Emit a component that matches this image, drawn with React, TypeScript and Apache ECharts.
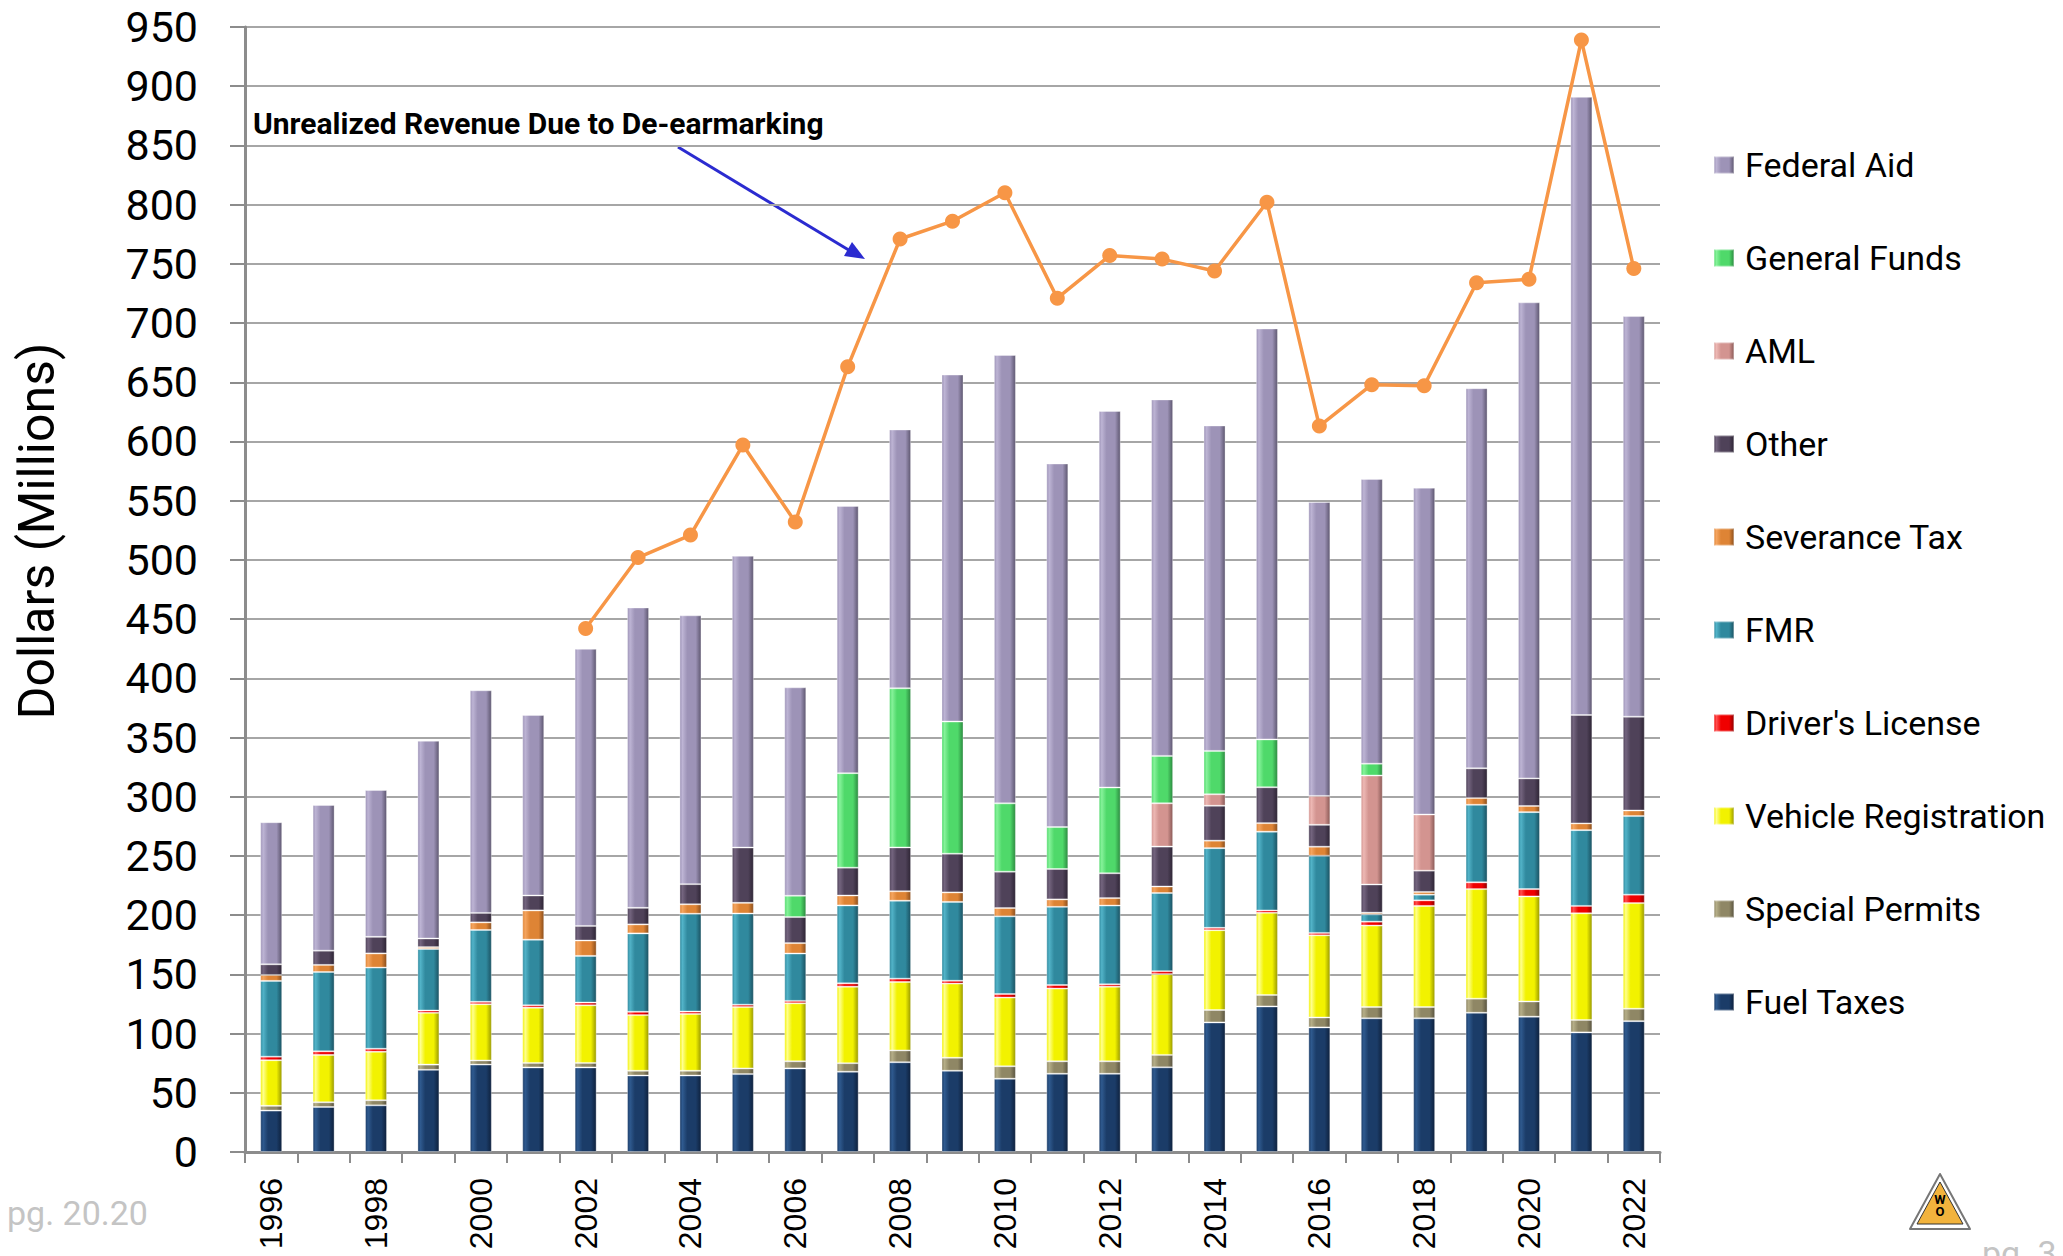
import React, { useEffect, useRef } from 'react';
import * as echarts from 'echarts';

const years = ['1996','1997','1998','1999','2000','2001','2002','2003','2004','2005','2006','2007','2008','2009','2010','2011','2012','2013','2014','2015','2016','2017','2018','2019','2020','2021','2022'];

const fuelTaxes = [35, 38, 39.4, 69.4, 73.8, 71.4, 71.4, 64.6, 64.6, 65.8, 70.6, 67.8, 75.8, 68.6, 61.9, 66.1, 66.1, 71.5, 109.4, 122.9, 105.2, 112.9, 112.9, 117.6, 114.3, 101, 110.5];
const specialPermits = [4, 4, 4.3, 4.4, 3.5, 3.8, 3.8, 4, 4, 4.8, 6, 7.2, 10, 11, 10.5, 10.5, 10.5, 10.5, 10.5, 9.7, 8.4, 9.5, 9.5, 11.9, 12.8, 10.5, 10.5];
const vehicleRegistration = [38.5, 40, 41, 43.7, 47.5, 46.7, 48.7, 47, 48, 51.8, 49, 64.6, 57.8, 62.6, 58, 61.4, 63, 68.2, 67.4, 69.4, 69.4, 68.8, 85.4, 92.5, 88.7, 90.1, 89.2];
const driversLicense = [3, 3, 2.5, 2, 2, 2, 2.3, 2.8, 2, 2, 2, 2.8, 2.8, 2.4, 3, 3, 2, 2.5, 2, 2, 2, 3.3, 4.7, 5.7, 6.2, 6.2, 7.1];
const fmr = [64, 67, 68.5, 52, 60.7, 55.4, 39.4, 66.2, 82.6, 77, 40, 65.8, 65.8, 66.6, 65.6, 66, 66.5, 66, 67.3, 66.5, 65.2, 6.2, 4.8, 65.5, 65, 64, 66.4];
const severanceTax = [5, 6, 12, 1.5, 6.4, 24.7, 13, 7.6, 8, 9, 8.8, 8.4, 8, 8, 7, 6.3, 6.3, 5.5, 6.3, 7.2, 7.6, 1.4, 2.3, 5.7, 5.2, 5.7, 4.7];
const other = [9, 12, 14, 7.3, 8, 12.6, 12.3, 14, 17, 46.7, 22, 23.5, 37, 32.7, 30.7, 25.7, 21, 33.7, 29.5, 30.3, 18.5, 23.8, 18, 25.1, 23.3, 91.5, 79.2];
const aml = [0, 0, 0, 0, 0, 0, 0, 0, 0, 0, 0, 0, 0, 0, 0, 0, 0, 36.6, 9.7, 0, 24.4, 92, 47.4, 0, 0, 0, 0];
const generalFunds = [0, 0, 0, 0, 0, 0, 0, 0, 0, 0, 18, 79.8, 134.4, 111.6, 57.7, 35.4, 72.4, 40, 36.6, 40.4, 0, 10, 0, 0, 0, 0, 0];
const federalAid = [120, 123, 124, 167, 188, 152.5, 234, 253.6, 227, 246.4, 176, 225.7, 218.5, 293, 378.7, 307, 318, 301, 274.8, 347, 248.2, 240.5, 276, 321, 402, 522, 338.3];
const unrealizedTotal = [null, null, null, null, null, null, 442, 502, 521, 597, 532, 663, 771, 786, 810, 721, 757, 754, 744, 802, 613, 648, 647, 734, 737, 939, 746];

const yTicks = { min: 0, max: 950, interval: 50 };

const seriesDefs = [
  { name: 'Fuel Taxes', data: fuelTaxes, c: ['#2F5A8F', '#1B3C68', '#0E213D'] },
  { name: 'Special Permits', data: specialPermits, c: ['#B5AE88', '#8F8765', '#5A5440'] },
  { name: 'Vehicle Registration', data: vehicleRegistration, c: ['#FFFF90', '#F2F200', '#9A9A00'] },
  { name: "Driver's License", data: driversLicense, c: ['#FF5050', '#F00000', '#900000'] },
  { name: 'FMR', data: fmr, c: ['#52B3C8', '#30899E', '#1B5262'] },
  { name: 'Severance Tax', data: severanceTax, c: ['#F5A560', '#DE8435', '#8C4F1C'] },
  { name: 'Other', data: other, c: ['#74657F', '#4F4259', '#2E2535'] },
  { name: 'AML', data: aml, c: ['#EDB8B4', '#D39490', '#8A5A57'] },
  { name: 'General Funds', data: generalFunds, c: ['#86F29A', '#4FD96A', '#2C8A40'] },
  { name: 'Federal Aid', data: federalAid, c: ['#BDB4D4', '#9D93B7', '#5E5770'] },
];

const legendOrder = ['Federal Aid', 'General Funds', 'AML', 'Other', 'Severance Tax', 'FMR', "Driver's License", 'Vehicle Registration', 'Special Permits', 'Fuel Taxes'];

function grad(c: string[]) {
  return {
    type: 'linear', x: 0, y: 0, x2: 1, y2: 0,
    colorStops: [
      { offset: 0, color: c[1] },
      { offset: 0.12, color: c[0] },
      { offset: 0.35, color: c[1] },
      { offset: 0.75, color: c[1] },
      { offset: 1, color: c[2] },
    ],
  };
}

export default function App() {
  const ref = useRef<HTMLDivElement>(null);
  useEffect(() => {
    const chart = echarts.init(ref.current!, null, { renderer: 'svg' });
    const barSeries = seriesDefs.map((s) => ({
      name: s.name,
      type: 'bar',
      stack: 'total',
      barWidth: 22,
      data: s.data.map((v) => (v === 0 ? '-' : v)),
      itemStyle: { color: grad(s.c), borderColor: 'rgba(255,255,255,0.35)', borderWidth: 1 },
      emphasis: { disabled: true },
    }));
    const option: any = {
      animation: false,
      backgroundColor: '#ffffff',
      grid: { left: 245, right: 403, top: 27, bottom: 104, containLabel: false },
      legend: {
        orient: 'vertical',
        left: 1708,
        top: 143,
        itemWidth: 20,
        itemHeight: 17,
        itemGap: 59,
        icon: 'rect',
        data: legendOrder,
        textStyle: { fontFamily: 'Roboto', fontSize: 34, lineHeight: 34, color: '#000', padding: [0, 0, 0, 6] },
        selectedMode: false,
      },
      xAxis: {
        type: 'category',
        data: years,
        boundaryGap: true,
        axisLine: { show: true, lineStyle: { color: '#8c8c8c', width: 3 } },
        axisTick: { show: true, interval: 0, length: 11, alignWithLabel: false, lineStyle: { color: '#8c8c8c', width: 2 } },
        axisLabel: { interval: 1, rotate: 90, fontSize: 32, margin: 26, color: '#000', fontFamily: 'Liberation Sans' },
        splitLine: { show: false },
      },
      yAxis: {
        type: 'value',
        min: yTicks.min,
        max: yTicks.max,
        interval: yTicks.interval,
        axisLine: { show: true, lineStyle: { color: '#8c8c8c', width: 3 } },
        axisTick: { show: true, length: 15, lineStyle: { color: '#8c8c8c', width: 2 } },
        axisLabel: { fontSize: 43, color: '#000', margin: 47, fontFamily: 'Roboto' },
        splitLine: { show: true, lineStyle: { color: '#a6a6a6', width: 2 } },
      },
      series: [
        ...barSeries,
        {
          name: 'Unrealized Revenue',
          type: 'line',
          data: unrealizedTotal,
          connectNulls: false,
          symbol: 'circle',
          symbolSize: 15,
          z: 10,
          lineStyle: { color: '#F79646', width: 3.5 },
          itemStyle: { color: '#F79646' },
          emphasis: { disabled: true },
        },
      ],
      graphic: [
        {
          type: 'text', x: 253, y: 123,
          style: { text: 'Unrealized Revenue Due to De-earmarking', fontFamily: 'Roboto', fontWeight: 'bold', fontSize: 30, fill: '#000', textVerticalAlign: 'middle' },
        },
        { type: 'line', shape: { x1: 678, y1: 147, x2: 852, y2: 252 }, style: { stroke: '#2B2BD0', lineWidth: 3 } },
        { type: 'polygon', shape: { points: [[865, 259], [844, 256], [852, 242]] }, style: { fill: '#2B2BD0' } },
        {
          type: 'text', x: 37, y: 531, rotation: Math.PI / 2,
          style: { text: 'Dollars (Millions)', fontFamily: 'Roboto', fontSize: 50, fill: '#000', textAlign: 'center', textVerticalAlign: 'middle' },
        },
        {
          type: 'text', left: 7, top: 1196,
          style: { text: 'pg. 20.20', fontFamily: 'Roboto', fontSize: 34, fill: '#c4c4c4' },
        },
        {
          type: 'text', left: 1982, top: 1236,
          style: { text: 'pg. 3', fontFamily: 'Roboto', fontSize: 34, fill: '#c4c4c4' },
        },
        { type: 'polygon', shape: { points: [[1940, 1174], [1970, 1229], [1910, 1229]] }, style: { fill: '#fff', stroke: '#777', lineWidth: 2, lineJoin: 'round' } },
        { type: 'polygon', shape: { points: [[1940, 1182], [1963, 1224], [1917, 1224]] }, style: { fill: '#F2B33D', stroke: '#333', lineWidth: 1 } },
        { type: 'text', x: 1940, y: 1199, style: { text: 'W', fontFamily: 'Roboto', fontWeight: 'bold', fontSize: 13, fill: '#000', textAlign: 'center', textVerticalAlign: 'middle' } },
        { type: 'text', x: 1940, y: 1211, style: { text: 'O', fontFamily: 'Roboto', fontWeight: 'bold', fontSize: 13, fill: '#000', textAlign: 'center', textVerticalAlign: 'middle' } },
      ],
    };
    chart.setOption(option);
    return () => chart.dispose();
  }, []);
  return <div ref={ref} style={{ position: 'absolute', left: 0, top: 0, width: 2063, height: 1256, background: '#fff' }} />;
}
